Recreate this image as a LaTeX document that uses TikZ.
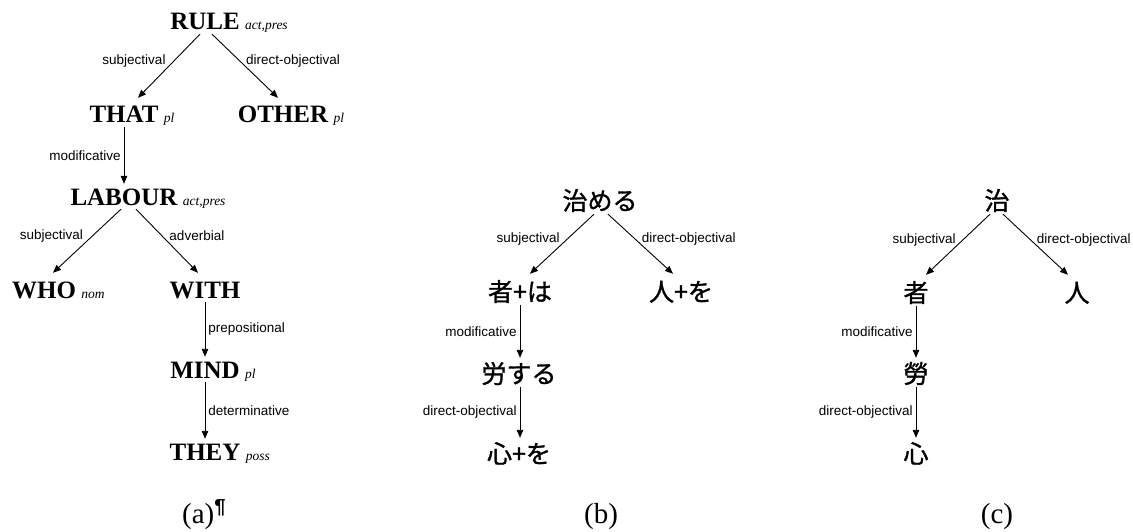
\documentclass[tikz,border=0pt]{standalone}
\usepackage{fontspec}
\setmainfont{Liberation Serif}
\setsansfont{Liberation Sans}
\newfontfamily\jpfont[FakeBold=1.2]{Noto Sans CJK JP}
\usetikzlibrary{arrows.meta,positioning}
\tikzset{
  wnode/.style={anchor=base,inner xsep=0pt,inner ysep=4pt,text height=17pt,text depth=0pt,font=\fontsize{25}{25}\selectfont\bfseries},
  jnode/.style={anchor=base,inner xsep=0pt,inner ysep=4pt,text height=21pt,text depth=0pt,font=\fontsize{25}{25}\selectfont\jpfont},
  infl/.style={anchor=base west,inner sep=0pt,xshift=5pt,font=\fontsize{13.5}{13.5}\selectfont\itshape},
  rel/.style={inner sep=0pt,font=\fontsize{13.5}{13.5}\selectfont\sffamily},
  dep/.style={-{Triangle[length=8pt,width=6.5pt]},line width=0.9pt},
  capt/.style={anchor=base,inner sep=0pt,font=\fontsize{29}{29}\selectfont}
}

\begin{document}
\begin{tikzpicture}[x=1pt,y=-1pt]
\useasboundingbox (0,0) rectangle (1133,532);
% (a) English tree
\node[wnode] (rule) at (205,30) {RULE};
\node[infl] (rule-i) at (rule.base east) {act,pres};
\node[wnode] (that) at (124,123) {THAT};
\node[infl] (that-i) at (that.base east) {pl};
\node[wnode] (other) at (283,123) {OTHER};
\node[infl] (other-i) at (other.base east) {pl};
\node[wnode] (labour) at (124,205) {LABOUR};
\node[infl] (labour-i) at (labour.base east) {act,pres};
\node[wnode] (who) at (44,298) {WHO};
\node[infl] (who-i) at (who.base east) {nom};
\node[wnode] (with) at (205,298) {WITH};
\node[wnode] (mind) at (205,378) {MIND};
\node[infl] (mind-i) at (mind.base east) {pl};
\node[wnode] (they) at (205,460) {THEY};
\node[infl] (they-i) at (they.base east) {poss};
\draw[dep] ([xshift=-5pt]rule.south) -- node[rel,pos=.42,left=8pt] {subjectival} ([xshift=14pt,yshift=4pt]that.north);
\draw[dep] ([xshift=7pt]rule.south) -- node[rel,pos=.42,right=6pt] {direct-objectival} ([xshift=-5pt,yshift=4pt]other.north);
\draw[dep] (that.south) -- node[rel,midway,left=3pt] {modificative} (that.south |- labour.north);
\draw[dep] ([xshift=-3pt]labour.south) -- node[rel,pos=.42,left=9pt] {subjectival} ([xshift=9pt,yshift=4pt]who.north);
\draw[dep] ([xshift=12pt]labour.south) -- node[rel,pos=.42,right=7pt] {adverbial} ([xshift=-7pt,yshift=4pt]with.north);
\draw[dep] (with.south) -- node[rel,midway,right=3pt] {prepositional} (with.south |- mind.north);
\draw[dep] (mind.south) -- node[rel,midway,right=3pt] {determinative} (mind.south |- they.north);
\node[capt,anchor=base west] (cap-a) at (182,523) {(a)\textsuperscript{\sffamily\bfseries ¶}};
% (b) Japanese tree
\node[jnode] (osameru) at (600,210) {治める};
\node[jnode] (shaha) at (520,301) {者+は};
\node[jnode] (hitowo) at (681,301) {人+を};
\node[jnode] (rousuru) at (519,383) {労する};
\node[jnode] (kokorowo) at (519,463) {心+を};
\draw[dep] ([xshift=-6pt]osameru.south) -- node[rel,pos=.42,left=7pt] {subjectival} ([xshift=10pt,yshift=2pt]shaha.north);
\draw[dep] ([xshift=8pt]osameru.south) -- node[rel,pos=.42,right=6pt] {direct-objectival} ([xshift=-8pt,yshift=2pt]hitowo.north);
\draw[dep] (shaha.south) -- node[rel,midway,left=3pt] {modificative} (shaha.south |- rousuru.north);
\draw[dep] (shaha.south |- rousuru.south) -- node[rel,midway,left=3pt] {direct-objectival} (shaha.south |- kokorowo.north);
\node[capt] (cap-b) at (601,523) {(b)};
% (c) Chinese tree
\node[jnode] (chi) at (997,210) {治};
\node[jnode] (sha) at (916,302) {者};
\node[jnode] (jin) at (1077,302) {人};
\node[jnode] (rou) at (916,383) {勞};
\node[jnode] (shin) at (916,463) {心};
\draw[dep] ([xshift=-7pt]chi.south) -- node[rel,pos=.42,left=7pt] {subjectival} ([xshift=10pt,yshift=2pt]sha.north);
\draw[dep] ([xshift=6pt]chi.south) -- node[rel,pos=.42,right=6pt] {direct-objectival} ([xshift=-9pt,yshift=2pt]jin.north);
\draw[dep] (sha.south) -- node[rel,midway,left=3pt] {modificative} (rou.north);
\draw[dep] (rou.south) -- node[rel,midway,left=3pt] {direct-objectival} (shin.north);
\node[capt] (cap-c) at (997,523) {(c)};
\end{tikzpicture}
\end{document}
